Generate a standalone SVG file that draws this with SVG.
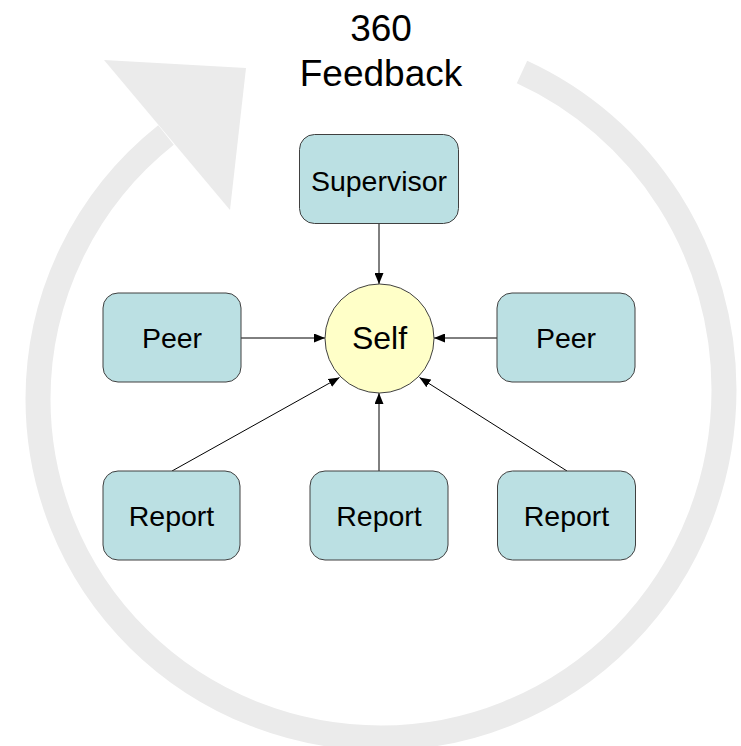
<svg xmlns="http://www.w3.org/2000/svg" width="741" height="746" viewBox="0 0 741 746">
  <style>
    .box { fill: #BBE0E3; stroke: #404040; stroke-width: 1; }
    .self { fill: #FFFFC8; stroke: #404040; stroke-width: 1; }
    .lbl { font-family: "Liberation Sans", Arial, sans-serif; font-size: 28.5px; fill: #000; text-anchor: middle; }
    .title { font-family: "Liberation Sans", Arial, sans-serif; font-size: 37px; fill: #000; text-anchor: middle; }
    .edge { stroke: #000; stroke-width: 1; fill: none; marker-end: url(#tip); }
    .ring { fill: none; stroke: #EBEBEB; stroke-width: 25; stroke-linecap: butt; }
  </style>
  <defs>
    <marker id="tip" markerUnits="userSpaceOnUse" markerWidth="11" markerHeight="9" refX="11" refY="4.5" orient="auto">
      <path d="M0,0 L11,4.5 L0,9 Z" fill="#000"/>
    </marker>
  </defs>
  <rect width="741" height="746" fill="#FFFFFF"/>

  <!-- circular feedback arrow behind everything -->
  <g id="cycle">
    <path class="ring" d="M 522 72 A 343 348.4 0 0 1 724 389.6 A 343 348.4 0 0 1 381 738 A 343 338.9 0 0 1 38 399.1 A 343 338.9 0 0 1 166 135"/>
    <polygon points="104,60 246,68 230,210" fill="#EBEBEB"/>
  </g>

  <g id="title">
    <text class="title" x="381" y="41">360</text>
    <text class="title" x="381" y="86">Feedback</text>
  </g>

  <g id="connectors">
    <line class="edge" x1="379" y1="223" x2="379" y2="284"/>
    <line class="edge" x1="241" y1="338" x2="325" y2="338"/>
    <line class="edge" x1="497" y1="338" x2="434" y2="338"/>
    <line class="edge" x1="172" y1="471" x2="339.5" y2="377.5"/>
    <line class="edge" x1="379" y1="471" x2="379" y2="393"/>
    <line class="edge" x1="567" y1="471" x2="419.5" y2="377.5"/>
  </g>

  <g id="supervisor">
    <rect class="box" x="299.5" y="134.5" width="159" height="89" rx="15"/>
    <text class="lbl" x="379" y="191">Supervisor</text>
  </g>
  <g id="peer-left">
    <rect class="box" x="103" y="293" width="138" height="89" rx="15"/>
    <text class="lbl" x="172" y="348">Peer</text>
  </g>
  <g id="peer-right">
    <rect class="box" x="497" y="293" width="138" height="89" rx="15"/>
    <text class="lbl" x="566" y="348">Peer</text>
  </g>
  <g id="self">
    <circle class="self" cx="379.5" cy="338.5" r="54.5"/>
    <text class="lbl" style="font-size:32px" x="379.5" y="349">Self</text>
  </g>
  <g id="report-left">
    <rect class="box" x="103" y="471" width="137" height="89" rx="15"/>
    <text class="lbl" x="171.5" y="526">Report</text>
  </g>
  <g id="report-middle">
    <rect class="box" x="310" y="471" width="138" height="89" rx="15"/>
    <text class="lbl" x="379" y="526">Report</text>
  </g>
  <g id="report-right">
    <rect class="box" x="497.5" y="471" width="138" height="89" rx="15"/>
    <text class="lbl" x="566.5" y="526">Report</text>
  </g>
</svg>
